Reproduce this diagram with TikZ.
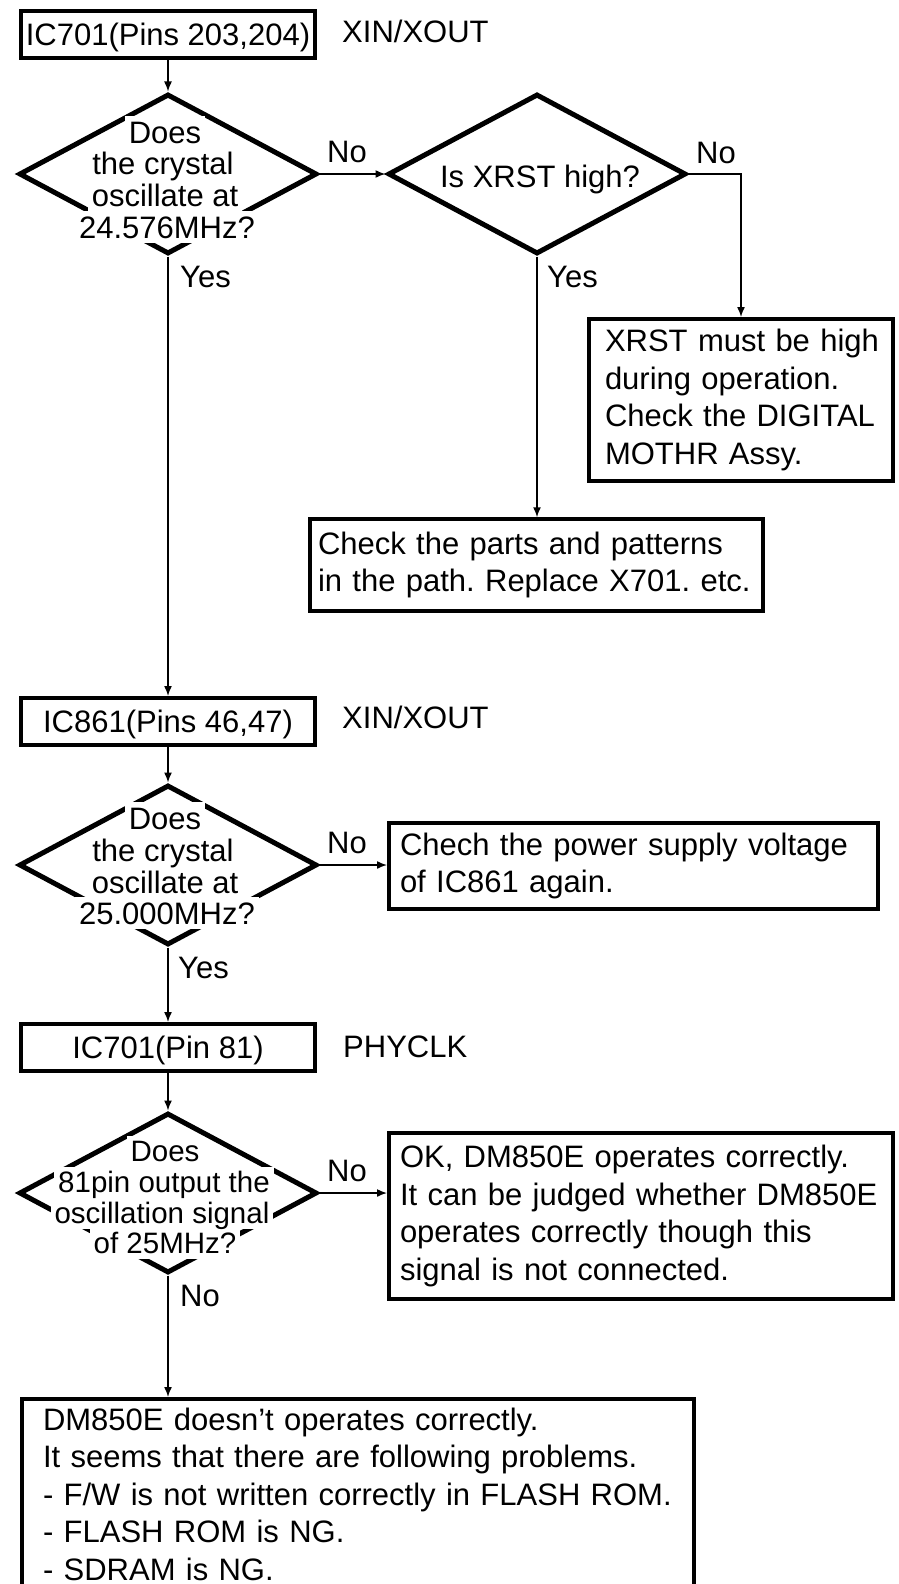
\documentclass[tikz,border=0pt]{standalone}
\usepackage{fontspec}
\setmainfont{Liberation Sans}
\usetikzlibrary{shapes.geometric,arrows.meta}
\frenchspacing
\begin{document}
\begin{tikzpicture}[x=1pt,y=-1pt,
  font=\fontsize{31}{37.5}\selectfont\frenchspacing,
  box/.style={draw,line width=4pt,inner sep=0pt,minimum width=294pt,minimum height=47pt,text height=22.2pt,text depth=0pt},
  tbox/.style={draw,line width=4pt,align=left,inner ysep=0pt},
  dia/.style={draw,diamond,line width=5pt,minimum width=298pt,minimum height=160pt,inner sep=0pt},
  dl/.style={fill=white,inner xsep=4pt,inner ysep=5pt,text height=22.2pt,text depth=0pt},
  dls/.style={dl,font=\fontsize{29.5}{35}\selectfont,text height=21pt},
  lbl/.style={inner sep=0pt,text height=22.2pt,text depth=0pt},
  arr/.style={line width=1.5pt,-{Latex[length=10pt,width=8pt]}}]
\useasboundingbox (0,0) rectangle (898,1584);
\clip (0,0) rectangle (898,1584);

% ---- first block
\node[box] (b1) at (168,34.5) {IC701(Pins 203,204)};
\node[lbl,anchor=west] (x1) at (342,31) {XIN/XOUT};

\node[dia] (d1) at (168,174) {};
\node[dl] (d1d) at (167,227) {24.576MHz?};
\node[dl] (d1c) at (165,195.4) {oscillate at};
\node[dl] (d1b) at (163,163.7) {the crystal};
\node[dl] (d1a) at (165,132) {Does};

\node[dia] (d2) at (537,174) {};
\node[lbl] (d2t) at (540,176) {Is XRST high?};

\node[tbox,minimum width=304pt,minimum height=162pt,inner xsep=16pt,text width=272pt] (xrst) at (741,400)
  {\mbox{XRST must be high}\\\mbox{during operation.}\\\mbox{Check the DIGITAL}\\\mbox{MOTHR Assy.}};

\node[tbox,line width=3.5pt,minimum width=453pt,minimum height=92pt,inner xsep=8pt,text width=437pt] (chk) at (536.5,565)
  {\mbox{Check the parts and patterns}\\\mbox{in the path. Replace X701. etc.}};

% ---- second block
\node[box] (b2) at (168,721.5) {IC861(Pins 46,47)};
\node[lbl,anchor=west] (x2) at (342,717) {XIN/XOUT};

\node[dia] (d3) at (168,865) {};
\node[dl] (d3d) at (167,913) {25.000MHz?};
\node[dl] (d3c) at (165,882) {oscillate at};
\node[dl] (d3b) at (163,850) {the crystal};
\node[dl] (d3a) at (165,818) {Does};

\node[tbox,minimum width=489pt,minimum height=86pt,inner xsep=11pt,text width=467pt] (pwr) at (633.5,866)
  {\mbox{Chech the power supply voltage}\\\mbox{of IC861 again.}};

% ---- third block
\node[box] (b3) at (168,1047.5) {IC701(Pin 81)};
\node[lbl,anchor=west] (x3) at (343,1046) {PHYCLK};

\node[dia] (d4) at (168,1193) {};
\node[dls] (d4d) at (165,1243) {of 25MHz?};
\node[dls] (d4c) at (162,1213) {oscillation signal};
\node[dls] (d4b) at (164,1182) {81pin output the};
\node[dls] (d4a) at (165,1151) {Does};

\node[tbox,minimum width=504pt,minimum height=166pt,inner xsep=11pt,text width=482pt] (ok) at (641,1216)
  {\mbox{OK, DM850E operates correctly.}\\\mbox{It can be judged whether DM850E}\\\mbox{operates correctly though this}\\\mbox{signal is not connected.}};

\node[tbox,anchor=north,minimum width=672pt,inner xsep=21pt,inner ysep=9pt,text width=630pt] (fin) at (358,1397)
  {\mbox{DM850E doesn't operates correctly.}\\\mbox{It seems that there are following problems.}\\\mbox{- F/W is not written correctly in FLASH ROM.}\\\mbox{- FLASH ROM is NG.}\\\mbox{- SDRAM is NG.}};

% ---- connectors
\draw[arr] (b1.south) -- (d1.north);
\draw[arr] (d1.east) -- (d2.west);
\draw[arr] (d2.east) -| (xrst.north);
\draw[arr] (d2.south) -- (d2.south |- chk.north);
\draw[arr] (d1.south) -- (b2.north);
\draw[arr] (b2.south) -- (d3.north);
\draw[arr] (d3.east) -- (d3.east -| pwr.west);
\draw[arr] (d3.south) -- (b3.north);
\draw[arr] (b3.south) -- (d4.north);
\draw[arr] (d4.east) -- (d4.east -| ok.west);
\draw[arr] (d4.south) -- (d4.south |- fin.north);

% ---- labels
\node[lbl] (l1) at (347,151) {No};
\node[lbl] (l2) at (716,152) {No};
\node[lbl,anchor=west] (l3) at (180,276) {Yes};
\node[lbl,anchor=west] (l4) at (547,276) {Yes};
\node[lbl] (l5) at (347,842) {No};
\node[lbl,anchor=west] (l6) at (178,967) {Yes};
\node[lbl] (l7) at (347,1170) {No};
\node[lbl,anchor=west] (l8) at (180,1295) {No};
\end{tikzpicture}
\end{document}
